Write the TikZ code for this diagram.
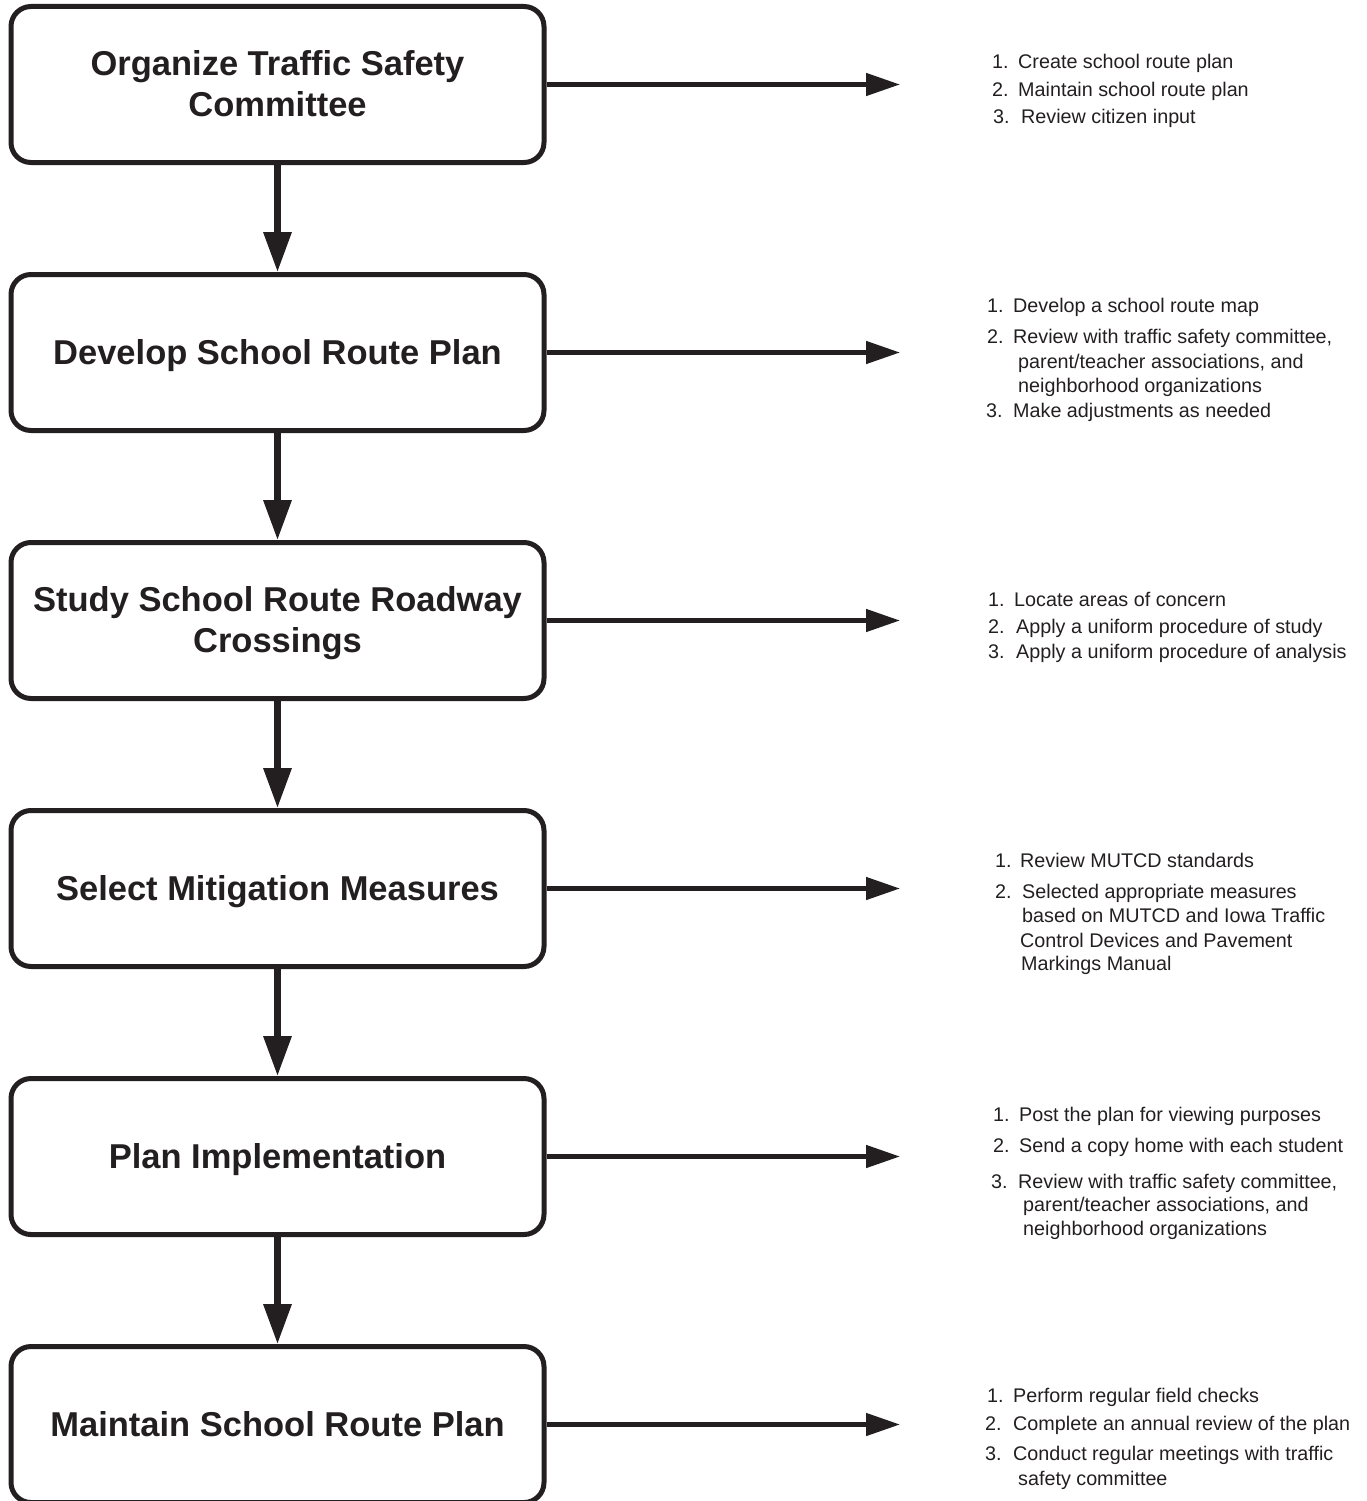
\documentclass[tikz,border=0pt]{standalone}
\usepackage{fontspec}
\setmainfont{Liberation Sans}
\usetikzlibrary{arrows.meta}
\definecolor{ink}{HTML}{231F20}
\begin{document}
\begin{tikzpicture}[x=1pt,y=-1pt,
  stepbox/.style={draw=ink, line width=5pt, rounded corners=20pt, minimum width=533pt, minimum height=156pt, inner sep=0pt},
  title/.style={font=\bfseries\fontsize{34.5}{41}\selectfont, text=ink, inner sep=0pt, anchor=base, align=center},
  lst/.style={font=\fontsize{19.75}{24}\selectfont, text=ink, inner sep=0pt, anchor=base west},
  down/.style={draw=ink, line width=6.5pt, -{Triangle[length=40pt,width=27pt]}},
  side/.style={draw=ink, line width=4.7pt, -{Triangle[length=34pt,width=22pt]}},
]
\useasboundingbox (0,0) rectangle (1367,1501);

% boxes
\node[stepbox] (b1) at (277.5,84.5) {};
\node[stepbox] (b2) at (277.5,352.5) {};
\node[stepbox] (b3) at (277.5,620.5) {};
\node[stepbox] (b4) at (277.5,888.5) {};
\node[stepbox] (b5) at (277.5,1156.5) {};
\node[stepbox] (b6) at (277.5,1424.5) {};

% titles (base anchor = last line's baseline)
\node[title] (t1) at (277.5,117) {Organize Traffic Safety\\Committee};
\node[title] (t2) at (277.5,364) {Develop School Route Plan};
\node[title] (t3) at (277.5,652.5) {Study School Route Roadway\\Crossings};
\node[title] (t4) at (277.5,900) {Select Mitigation Measures};
\node[title] (t5) at (277.5,1168) {Plan Implementation};
\node[title] (t6) at (277.5,1436) {Maintain School Route Plan};

% vertical arrows
\draw[down] (b1.south) -- (b2.north);
\draw[down] (b2.south) -- (b3.north);
\draw[down] (b3.south) -- (b4.north);
\draw[down] (b4.south) -- (b5.north);
\draw[down] (b5.south) -- (b6.north);

% side arrows
\coordinate (e1) at (900,84.5);
\coordinate (e2) at (900,352.5);
\coordinate (e3) at (900,620.5);
\coordinate (e4) at (900,888.5);
\coordinate (e5) at (900,1156.5);
\coordinate (e6) at (900,1424.5);
\draw[side] (b1.east) -- (e1);
\draw[side] (b2.east) -- (e2);
\draw[side] (b3.east) -- (e3);
\draw[side] (b4.east) -- (e4);
\draw[side] (b5.east) -- (e5);
\draw[side] (b6.east) -- (e6);

% list 1
\node[lst] (n1a) at (992,69) {1.};
\node[lst] (l1a) at (1018,69) {Create school route plan};
\node[lst] (n1b) at (992,97) {2.};
\node[lst] (l1b) at (1018,97) {Maintain school route plan};
\node[lst] (n1c) at (993,124) {3.};
\node[lst] (l1c) at (1021,124) {Review citizen input};

% list 2
\node[lst] (n2a) at (987,312) {1.};
\node[lst] (l2a) at (1013,312) {Develop a school route map};
\node[lst] (n2b) at (987,343) {2.};
\node[lst] (l2b) at (1013,343) {Review with traffic safety committee,};
\node[lst] (l2b2) at (1018,368) {parent/teacher associations, and};
\node[lst] (l2b3) at (1018,392) {neighborhood organizations};
\node[lst] (n2c) at (986,417) {3.};
\node[lst] (l2c) at (1013,417) {Make adjustments as needed};

% list 3
\node[lst] (n3a) at (988,606) {1.};
\node[lst] (l3a) at (1014,606) {Locate areas of concern};
\node[lst] (n3b) at (988,633) {2.};
\node[lst] (l3b) at (1016,633) {Apply a uniform procedure of study};
\node[lst] (n3c) at (988,658) {3.};
\node[lst] (l3c) at (1016,658) {Apply a uniform procedure of analysis};

% list 4
\node[lst] (n4a) at (995,867) {1.};
\node[lst] (l4a) at (1020,867) {Review MUTCD standards};
\node[lst] (n4b) at (995,898) {2.};
\node[lst] (l4b) at (1022,898) {Selected appropriate measures};
\node[lst] (l4b2) at (1022,922) {based on MUTCD and Iowa Traffic};
\node[lst] (l4b3) at (1020,947) {Control Devices and Pavement};
\node[lst] (l4b4) at (1021,970) {Markings Manual};

% list 5
\node[lst] (n5a) at (993,1121) {1.};
\node[lst] (l5a) at (1019,1121) {Post the plan for viewing purposes};
\node[lst] (n5b) at (993,1152) {2.};
\node[lst] (l5b) at (1019,1152) {Send a copy home with each student};
\node[lst] (n5c) at (991,1188) {3.};
\node[lst] (l5c) at (1018,1188) {Review with traffic safety committee,};
\node[lst] (l5c2) at (1023,1211) {parent/teacher associations, and};
\node[lst] (l5c3) at (1023,1235) {neighborhood organizations};

% list 6
\node[lst] (n6a) at (987,1402) {1.};
\node[lst] (l6a) at (1013,1402) {Perform regular field checks};
\node[lst] (n6b) at (985,1430) {2.};
\node[lst] (l6b) at (1013,1430) {Complete an annual review of the plan};
\node[lst] (n6c) at (985,1460) {3.};
\node[lst] (l6c) at (1013,1460) {Conduct regular meetings with traffic};
\node[lst] (l6c2) at (1018,1485) {safety committee};
\end{tikzpicture}
\end{document}
